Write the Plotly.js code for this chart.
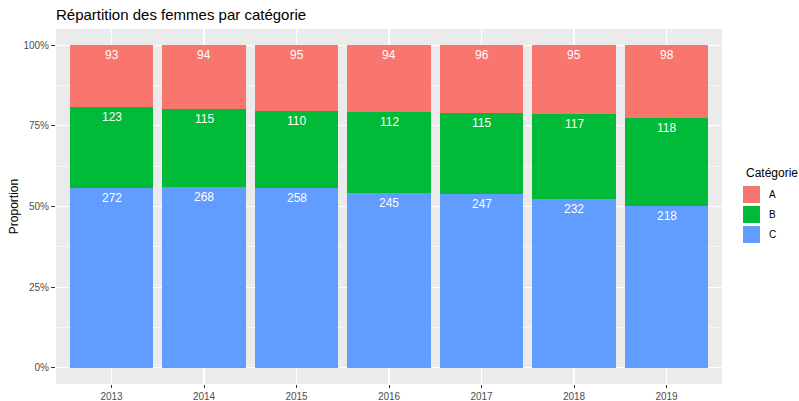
<!DOCTYPE html>
<html><head><meta charset="utf-8">
<script src="https://cdn.plot.ly/plotly-3.0.1.min.js"></script>
<style>html,body{margin:0;padding:0;background:#fff}</style>
</head><body>
<div id="chart" style="width:799px;height:401px"></div>
<script>
const years = ['2013','2014','2015','2016','2017','2018','2019'];
const catA = [93, 94, 95, 94, 96, 95, 98];
const catB = [123, 115, 110, 112, 115, 117, 118];
const catC = [272, 268, 258, 245, 247, 232, 218];
const categories = ['A','B','C'];
const colors = {A:'#F8766D', B:'#00BA38', C:'#619CFF'};

const totals = years.map((_, i) => catA[i] + catB[i] + catC[i]);
const pC = catC.map((v, i) => v / totals[i]);
const pB = catB.map((v, i) => v / totals[i]);
const pA = catA.map((v, i) => v / totals[i]);

const font = 'Liberation Sans, Arial, sans-serif';
const mk = (name, p, raw) => ({
  type: 'bar', name: name, x: years, y: p, width: 0.9,
  marker: {color: colors[name], line: {width: 0}},
  customdata: raw, showlegend: false, hoverinfo: 'skip'
});
const traces = [mk('C', pC, catC), mk('B', pB, catB), mk('A', pA, catA)];

const annotations = [];
years.forEach((yr, i) => {
  const topC = pC[i], topB = pC[i] + pB[i], topA = topC + pB[i] + pA[i];
  [[topC, catC[i]], [topB, catB[i]], [topA, catA[i]]].forEach(([y, v]) => {
    annotations.push({x: i, y: y, xref: 'x', yref: 'y', text: String(v), showarrow: false,
      xanchor: 'center', yanchor: 'middle', yshift: -10, font: {family: font, size: 12, color: '#ffffff'}});
  });
});

annotations.push({xref: 'paper', yref: 'paper', x: 1.033, y: (384 - 173) / 355, xanchor: 'left', yanchor: 'middle',
  text: 'Catégorie', showarrow: false, font: {family: font, size: 12, color: '#000'}});
const shapes = [];
const keyTop = [186, 206, 226];
const toPaper = py => (384 - py) / 355;
categories.forEach((c, k) => {
  const y0px = keyTop[k], y1px = keyTop[k] + 17;
  shapes.push({type: 'rect', xref: 'paper', yref: 'paper', x0: (743 - 56) / 666, x1: (760 - 56) / 666,
    y0: toPaper(y1px), y1: toPaper(y0px), fillcolor: colors[c], line: {width: 0}});
  annotations.push({xref: 'paper', yref: 'paper', x: (767 - 56) / 666, y: toPaper(y0px + 8.5),
    xanchor: 'left', yanchor: 'middle', text: c, showarrow: false, font: {family: font, size: 10, color: '#000'}});
});

const layout = {
  width: 799, height: 401,
  margin: {l: 56, r: 77, t: 29, b: 17},
  paper_bgcolor: '#ffffff', plot_bgcolor: '#EBEBEB',
  barmode: 'stack', bargap: 0.1, showlegend: false,
  title: {text: 'Répartition des femmes par catégorie', x: 56/799, xanchor: 'left', y: 1 - 15/401, yanchor: 'middle',
    font: {family: font, size: 15, color: '#000'}},
  xaxis: {type: 'category', range: [-0.6, 6.6], showgrid: true, gridcolor: '#ffffff', gridwidth: 1.1,
    zeroline: false, showline: false, ticks: 'outside', ticklen: 3, tickcolor: '#333333', tickwidth: 1,
    tickfont: {family: font, size: 10, color: '#4D4D4D'}},
  yaxis: {range: [-0.05, 1.05], tickvals: [0, 0.25, 0.5, 0.75, 1], ticktext: ['0%', '25%', '50%', '75%', '100%'],
    showgrid: true, gridcolor: '#ffffff', gridwidth: 1.1, zeroline: false, showline: false,
    ticks: 'outside', ticklen: 4, tickcolor: '#333333', tickwidth: 1,
    tickfont: {family: font, size: 10, color: '#4D4D4D'},
    minor: {tickvals: [0.125, 0.375, 0.625, 0.875], showgrid: true, gridcolor: '#ffffff', gridwidth: 0.6, ticks: ''},
    title: {text: 'Proportion', standoff: 2, font: {family: font, size: 12, color: '#000'}}},
  annotations: annotations, shapes: shapes
};
Plotly.newPlot('chart', traces, layout, {displayModeBar: false, staticPlot: true});
</script>
</body></html>
